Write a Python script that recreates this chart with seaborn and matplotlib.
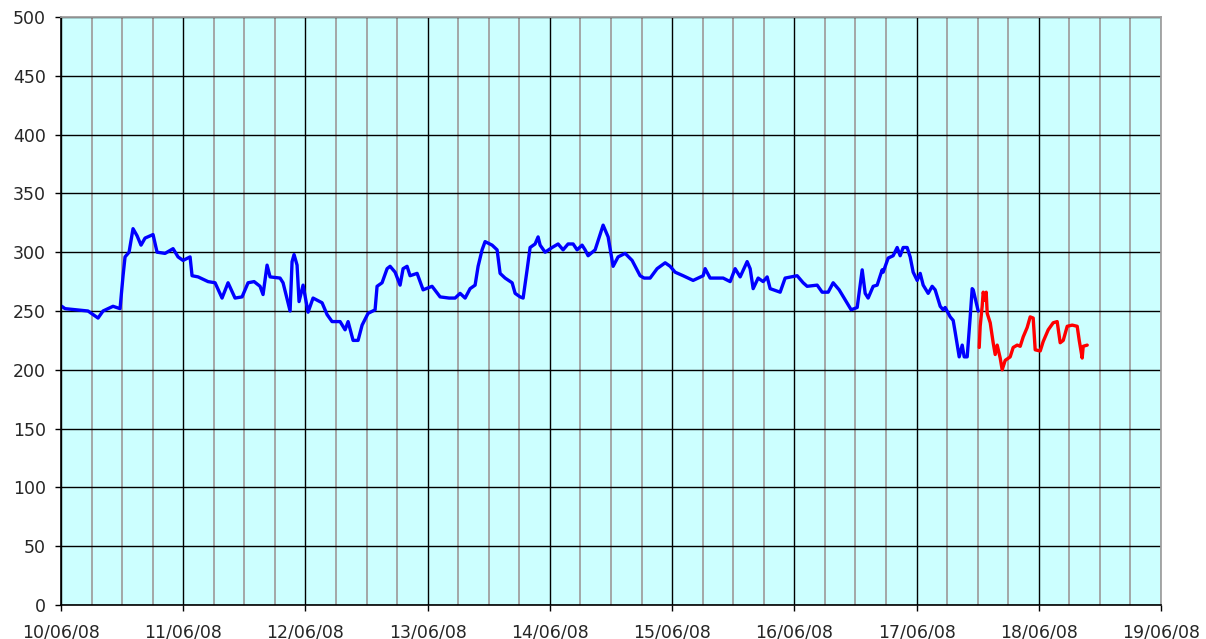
import pandas as pd
import matplotlib
matplotlib.use("Agg")
import matplotlib.pyplot as plt
import matplotlib.dates as mdates
import seaborn as sns

# hours since 10/06/08 00:00 and readings
blue_hours = [0.14, 0.79, 5.30, 7.27, 8.25, 10.21, 11.59, 12.18, 12.57, 13.36,
              14.14, 14.93, 15.71, 16.50, 18.07, 18.86, 20.43, 22.00, 22.98, 23.96,
              25.34, 25.73, 26.91, 28.87, 30.25, 31.62, 32.80, 34.17, 35.55, 36.73,
              37.91, 39.08, 39.67, 40.46, 41.05, 43.01, 43.60, 44.98, 45.37, 45.76,
              46.35, 46.74, 47.53, 48.51, 49.49, 51.26, 52.24, 53.22, 54.80, 55.78,
              56.37, 57.35, 58.33, 59.12, 60.29, 61.67, 62.06, 63.04, 64.03, 64.62,
              65.60, 66.58, 67.17, 67.95, 68.54, 69.92, 71.10, 72.86, 74.44, 76.20,
              77.38, 78.36, 79.35, 80.33, 81.31, 81.90, 82.68, 83.27, 84.65, 85.63,
              86.22, 87.20, 88.58, 89.17, 90.15, 90.74, 91.52, 92.11, 93.09, 93.68,
              94.08, 95.06, 96.43, 97.61, 98.59, 99.57, 100.56, 101.34, 102.32, 102.91,
              103.50, 104.88, 105.47, 106.45, 107.43, 108.41, 109.39, 110.77, 112.14, 113.71,
              114.50, 115.68, 117.05, 118.63, 119.61, 120.59, 122.16, 124.12, 126.09, 126.48,
              127.46, 130.02, 131.39, 132.37, 133.36, 134.73, 135.32, 135.91, 136.89, 137.87,
              138.66, 139.25, 141.21, 142.19, 144.55, 145.73, 146.51, 148.48, 149.46, 150.64,
              151.62, 152.80, 154.18, 155.16, 156.34, 157.32, 157.91, 158.49, 159.48, 160.26,
              161.24, 161.44, 162.42, 163.40, 164.19, 164.78, 165.37, 166.15, 166.74, 167.33,
              168.12, 168.71, 169.30, 170.28, 171.06, 171.65, 172.64, 173.22, 173.62, 174.60,
              175.19, 175.58, 176.37, 176.96, 177.35, 177.94, 178.53, 178.92, 179.12, 180.10]
blue_values = [254, 252, 250, 244, 250, 254, 252, 280, 296, 300,
               320, 314, 306, 312, 315, 300, 299, 303, 296, 293,
               296, 280, 279, 275, 274, 261, 274, 261, 262, 274,
               275, 271, 264, 289, 279, 278, 274, 250, 292, 298,
               289, 258, 272, 249, 261, 257, 247, 241, 241, 234,
               241, 225, 225, 238, 248, 251, 271, 274, 286, 288,
               283, 272, 286, 288, 280, 282, 268, 271, 262, 261,
               261, 265, 261, 269, 272, 288, 302, 309, 306, 302,
               282, 278, 274, 265, 262, 261, 285, 304, 307, 313,
               306, 300, 304, 307, 302, 307, 307, 302, 306, 302,
               297, 302, 310, 323, 313, 288, 296, 299, 293, 280,
               278, 278, 286, 291, 288, 283, 280, 276, 280, 286,
               278, 278, 275, 286, 279, 292, 286, 269, 278, 275,
               279, 269, 266, 278, 280, 274, 271, 272, 266, 266,
               274, 268, 258, 251, 253, 285, 265, 261, 271, 272,
               285, 283, 295, 297, 304, 297, 304, 304, 296, 283,
               276, 282, 272, 265, 271, 268, 254, 251, 253, 245,
               242, 232, 211, 221, 211, 211, 245, 269, 268, 250]

red_hours = [180.30, 180.49, 180.88, 181.08, 181.47, 181.67, 181.87, 182.46, 183.04, 183.44,
             183.83, 184.42, 184.81, 185.40, 186.38, 186.97, 187.76, 188.35, 188.94, 189.72,
             190.31, 190.90, 191.29, 192.28, 192.86, 193.85, 194.83, 195.61, 196.20, 196.80,
             197.58, 198.56, 199.54, 199.94, 200.52, 200.72, 201.51]
red_values = [219, 237, 254, 266, 259, 266, 248, 240, 223, 213,
              221, 210, 200, 208, 211, 219, 221, 220, 228, 236,
              245, 244, 217, 216, 224, 234, 240, 241, 223, 225,
              237, 238, 237, 225, 210, 220, 221]

y_ticks = list(range(0, 501, 50))
start = pd.Timestamp("2008-06-10")
end = pd.Timestamp("2008-06-19")

blue = pd.DataFrame({"time": start + pd.to_timedelta(blue_hours, unit="h"), "value": blue_values})
red = pd.DataFrame({"time": start + pd.to_timedelta(red_hours, unit="h"), "value": red_values})

sns.set_style("white")
plt.rcParams["font.family"] = ["DejaVu Sans"]

fig = plt.figure(figsize=(12.06, 6.39), dpi=100)
ax = fig.add_axes([0.0506, 0.0532, 0.9121, 0.9202])
ax.set_facecolor("#CCFFFF")

sns.lineplot(data=blue, x="time", y="value", ax=ax, color="#0000FF",
             linewidth=2.4, estimator=None, sort=False)
sns.lineplot(data=red, x="time", y="value", ax=ax, color="#FF0000",
             linewidth=2.4, estimator=None, sort=False)

ax.set_xlim(start, end)
ax.set_ylim(0, 500)
ax.set_yticks(y_ticks)
ax.xaxis.set_major_locator(mdates.DayLocator())
ax.xaxis.set_minor_locator(mdates.HourLocator(byhour=[6, 12, 18]))
ax.xaxis.set_major_formatter(mdates.DateFormatter("%d/%m/%y"))

ax.set_axisbelow(True)
ax.grid(which="major", axis="both", color="black", linewidth=1.0)
ax.grid(which="minor", axis="x", color="#A0A0A0", linewidth=1.3)

ax.tick_params(axis="both", which="major", direction="out", length=4, width=1,
               color="black", labelsize=12.5, pad=7, left=True, bottom=True)
ax.tick_params(axis="x", which="minor", length=0)
ax.tick_params(axis="x", pad=9)

for side in ["left", "bottom"]:
    ax.spines[side].set_color("black")
    ax.spines[side].set_linewidth(1.2)
for side in ["top", "right"]:
    ax.spines[side].set_color("#A0A0A0")
    ax.spines[side].set_linewidth(1.3)

ax.set_xlabel("")
ax.set_ylabel("")

fig.savefig("out.png", dpi=100)
